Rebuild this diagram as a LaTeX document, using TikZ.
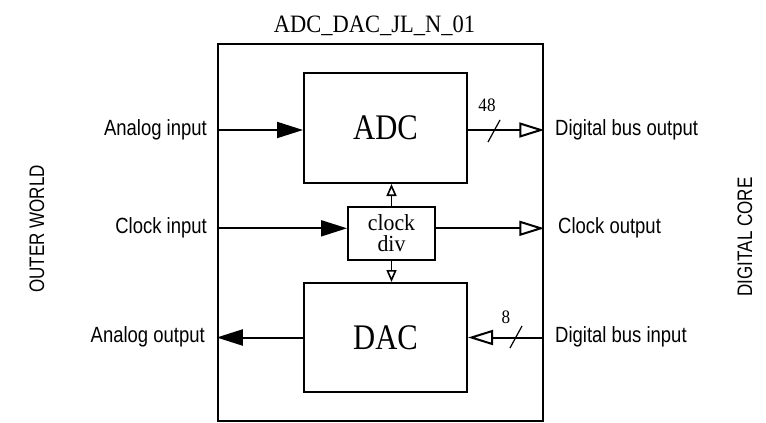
\documentclass[tikz,border=0pt]{standalone}
\usepackage{fontspec}
\setmainfont{Liberation Serif}
\newfontfamily\lblfont[FakeStretch=0.84]{Liberation Sans}
\newfontfamily\sidefont[FakeStretch=0.81]{Liberation Sans}
\newfontfamily\blockfont[FakeStretch=0.85]{Liberation Serif}
\newfontfamily\divfont[FakeStretch=0.95]{Liberation Serif}
\newfontfamily\titlefont[FakeStretch=0.9]{Liberation Serif}
\usepackage{tikz}
\usetikzlibrary{
  arrows.meta,
  positioning,
}

\begin{document}
\begin{tikzpicture}[x=1pt, y=-1pt,
    chip/.style={draw, line width=2.5pt, minimum width=325pt, minimum height=377pt},
    block/.style={draw, line width=2pt, inner sep=0pt,
                  font=\blockfont\fontsize{36}{40}\selectfont},
    divbox/.style={draw, line width=2pt, inner sep=0pt, align=center,
                   font=\divfont\fontsize{23}{21.6}\selectfont},
    lbl/.style={inner sep=0pt, font=\lblfont\fontsize{22}{24}\selectfont},
    side/.style={rotate=90, inner sep=0pt, font=\sidefont\fontsize{21}{24}\selectfont},
    width/.style={inner sep=0pt, font=\titlefont\fontsize{19}{20}\selectfont},
    wire/.style={line width=2pt},
    sig/.style={wire, -{Triangle[length=26pt, width=16pt]}},
    bus/.style={wire, -{Triangle[open, length=25pt, width=15pt]}},
    tap/.style={line width=1.6pt, -{Triangle[open, length=12pt, width=10pt]}},
  ]
  \useasboundingbox (0,0) rectangle (766,423);

  \node[chip] (chip) at (380.5,232.5) {};
  \node[inner sep=0pt, anchor=base, font=\titlefont\fontsize{25}{28}\selectfont]
    (title) at (374.5,32) {ADC\_DAC\_JL\_N\_01};

  \node[block, minimum width=163pt, minimum height=110pt] (adc) at (385.5,128) {ADC};
  \node[divbox, minimum width=87pt, minimum height=53pt] (div) at (391.5,233.3) {clock\\div};
  \node[block, minimum width=163pt, minimum height=109pt] (dac) at (385.5,337.5) {DAC};

  \node[lbl, anchor=base east] (ain)  at (207,135) {Analog input};
  \node[lbl, anchor=base east] (cin)  at (207,233) {Clock input};
  \node[lbl, anchor=base east] (aout) at (205,342) {Analog output};
  \node[lbl, anchor=base west] (dout) at (555,135) {Digital bus output};
  \node[lbl, anchor=base west] (cout) at (558,233) {Clock output};
  \node[lbl, anchor=base west] (din)  at (555,342) {Digital bus input};

  \node[side] (outer) at (37,229) {OUTER WORLD};
  \node[side] (core)  at (745,237) {DIGITAL CORE};

  \coordinate (ainl)  at (chip.west |- 0,130);
  \coordinate (doutr) at (chip.east |- 0,130);
  \coordinate (cinl)  at ([yshift=5pt]chip.west |- div.west);
  \coordinate (coutr) at ([yshift=5pt]chip.east |- div.east);
  \coordinate (aoutl) at (chip.west |- dac.west);
  \coordinate (dinr)  at (chip.east |- dac.east);

  \draw[sig] (ainl) -- (adc.west |- ainl);
  \draw[bus] (adc.east |- doutr) -- (doutr);
  \draw[sig] (cinl) -- (div.west |- cinl);
  \draw[bus] (div.east |- coutr) -- (coutr);
  \draw[sig] (dac.west) -- (aoutl);
  \draw[bus] (dinr) -- (dac.east);
  \draw[tap] (div.north) -- (div.north |- adc.south);
  \draw[tap] (div.south) -- (div.south |- dac.north);

  \coordinate (w48) at (494,131);
  \coordinate (w8)  at (516,337);
  \draw[line width=1.2pt] ([shift={(-6,11)}]w48) -- ([shift={(6,-11)}]w48);
  \draw[line width=1.2pt] ([shift={(-6,11)}]w8) -- ([shift={(6,-11)}]w8);
  \node[width] (n48) at (487,105) {48};
  \node[width] (n8)  at (506,317) {8};
\end{tikzpicture}
\end{document}
